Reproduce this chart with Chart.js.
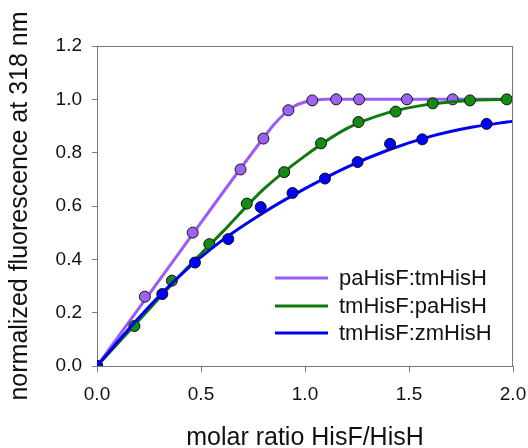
<!DOCTYPE html>
<html>
<head>
<meta charset="utf-8">
<script src="https://cdn.jsdelivr.net/npm/chart.js@4"></script>
<style>
html,body{margin:0;padding:0;background:#fff;}
#wrap{width:528px;height:448px;position:relative;}
</style>
</head>
<body>
<div id="wrap"><canvas id="c" width="528" height="448"></canvas></div>
<script>
// ---- data ----
const seriesLabels = ["paHisF:tmHisH", "tmHisF:paHisH", "tmHisF:zmHisH"];

// measured points
const paX = [0, 0.23, 0.46, 0.69, 0.80, 0.92, 1.035, 1.15, 1.26, 1.49, 1.71];
const paY = [0, 0.26, 0.50, 0.737, 0.853, 0.959, 0.996, 1.0, 1.0, 1.0, 1.0];
const tmX = [0, 0.18, 0.36, 0.54, 0.72, 0.90, 1.077, 1.257, 1.436, 1.614, 1.793, 1.97];
const tmY = [0, 0.15, 0.32, 0.457, 0.609, 0.727, 0.835, 0.915, 0.954, 0.985, 0.996, 1.0];
const zmX = [0, 0.314, 0.471, 0.631, 0.787, 0.94, 1.096, 1.253, 1.409, 1.564, 1.873];
const zmY = [0, 0.27, 0.388, 0.476, 0.596, 0.649, 0.703, 0.765, 0.833, 0.85, 0.908];

// fitted curves
const paFitX = [0, 0.2, 0.4, 0.6, 0.8, 0.85, 0.9, 0.95, 1.0, 1.05, 1.1, 1.2, 1.4, 1.7, 2.0];
const paFitY = [0, 0.215, 0.43, 0.645, 0.855, 0.905, 0.945, 0.975, 0.99, 0.997, 1.0, 1.0, 1.0, 1.0, 1.0];
const tmFitX = [0, 0.2, 0.4, 0.6, 0.8, 1.0, 1.2, 1.4, 1.6, 1.8, 2.0];
const tmFitY = [0, 0.17, 0.34, 0.50, 0.662, 0.788, 0.89, 0.95, 0.982, 0.996, 1.0];
const zmFitX = [0, 0.2, 0.4, 0.6, 0.8, 1.0, 1.2, 1.4, 1.6, 1.8, 2.0];
const zmFitY = [0, 0.18, 0.34, 0.47, 0.575, 0.665, 0.745, 0.81, 0.86, 0.895, 0.918];

const xTicks = [0, 0.5, 1.0, 1.5, 2.0];
const yTicks = [0, 0.2, 0.4, 0.6, 0.8, 1.0, 1.2];

const xTitle = "molar ratio HisF/HisH";
const yTitle = "normalized fluorescence at 318 nm";

// ---- styles ----
const lineColors = ["#9b5cf6", "#0e7a0e", "#0000ee"];
const markColors = ["#9d62f2", "#158a15", "#0000ff"];
const FONT = "'Liberation Sans', Arial, sans-serif";

const pts = (xs, ys) => xs.map((x, i) => ({x: x, y: ys[i]}));

function lineDs(i, xs, ys, order) {
  return {label: seriesLabels[i], data: pts(xs, ys), showLine: true, borderColor: lineColors[i],
    borderWidth: 3, pointRadius: 0, cubicInterpolationMode: 'monotone', fill: false, order: order, isFit: true};
}
function markDs(i, xs, ys, order) {
  return {label: seriesLabels[i] + " data", data: pts(xs, ys), showLine: false, backgroundColor: markColors[i],
    borderColor: "#111", borderWidth: 1, pointRadius: 5.5, order: order};
}

const frame = {
  id: 'frame',
  afterDraw(chart) {
    const {ctx, chartArea: a} = chart;
    ctx.save();
    ctx.strokeStyle = "#7a7a7a";
    ctx.lineWidth = 1;
    ctx.beginPath();
    ctx.moveTo(a.left, a.top + 0.5); ctx.lineTo(a.right, a.top + 0.5);
    ctx.moveTo(a.right - 0.5, a.top); ctx.lineTo(a.right - 0.5, a.bottom);
    ctx.stroke();
    // legend
    const fits = chart.data.datasets.filter(d => d.isFit);
    ctx.font = "22px " + FONT;
    ctx.textBaseline = "middle";
    ctx.fillStyle = "#111";
    const ys = [278, 306, 333];
    seriesLabels.forEach((lab, j) => {
      const d = fits.find(f => f.label === lab);
      ctx.strokeStyle = d.borderColor;
      ctx.lineWidth = 3;
      ctx.beginPath();
      ctx.moveTo(275, ys[j]); ctx.lineTo(328, ys[j]);
      ctx.stroke();
      ctx.fillText(d.label, 339, ys[j] + 1);
    });
    ctx.restore();
  }
};

function noPad(s) { s.paddingLeft = 0; s.paddingRight = 0; s.paddingTop = 0; s.paddingBottom = 0; }

new Chart(document.getElementById('c'), {
  type: 'scatter',
  data: {
    datasets: [
      lineDs(0, paFitX, paFitY, 6), markDs(0, paX, paY, 5),
      lineDs(1, tmFitX, tmFitY, 4), markDs(1, tmX, tmY, 3),
      lineDs(2, zmFitX, zmFitY, 2), markDs(2, zmX, zmY, 1)
    ]
  },
  options: {
    responsive: false,
    animation: false,
    devicePixelRatio: 1,
    layout: {padding: {top: 46, right: 15, left: 0, bottom: 0}},
    plugins: {legend: {display: false}, tooltip: {enabled: false}},
    scales: {
      x: {
        type: 'linear', min: 0, max: 2.0,
        afterBuildTicks: s => { s.ticks = xTicks.map(v => ({value: v})); },
        afterFit: s => { s.height = 82; noPad(s); },
        ticks: {color: "#111", font: {size: 19, family: FONT}, padding: 11,
          callback: v => Number(v).toFixed(1), maxRotation: 0},
        grid: {display: true, drawOnChartArea: false, drawTicks: true, tickLength: 6, color: "#7a7a7a"},
        border: {display: true, color: "#7a7a7a"},
        title: {display: true, text: xTitle, color: "#111", font: {size: 25, family: FONT}, padding: {top: 0, bottom: -5}}
      },
      y: {
        type: 'linear', min: 0, max: 1.2,
        afterBuildTicks: s => { s.ticks = yTicks.map(v => ({value: v})); },
        afterFit: s => { s.width = 97; noPad(s); },
        ticks: {color: "#111", font: {size: 19, family: FONT}, padding: 10,
          callback: v => Number(v).toFixed(1)},
        grid: {display: true, drawOnChartArea: false, drawTicks: true, tickLength: 5, color: "#7a7a7a"},
        border: {display: true, color: "#7a7a7a"},
        title: {display: true, text: yTitle, color: "#111", font: {size: 25, family: FONT}, padding: {top: 5, bottom: 0}}
      }
    }
  },
  plugins: [frame]
});
</script>
</body>
</html>
